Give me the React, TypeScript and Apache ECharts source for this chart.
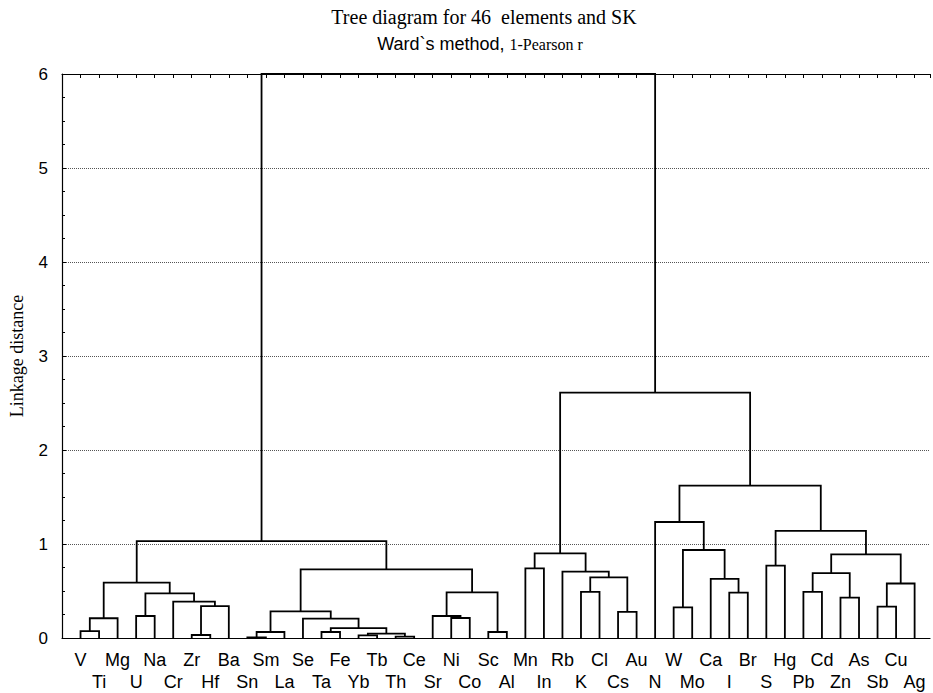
import React, { useEffect, useRef } from "react";
import * as echarts from "echarts";

// Leaf order along the x axis (positions 1..46)
const leaves = [
  "V", "Ti", "Mg", "U", "Na", "Cr", "Zr", "Hf", "Ba", "Sn", "Sm", "La",
  "Se", "Ta", "Fe", "Yb", "Tb", "Th", "Ce", "Sr", "Ni", "Co", "Sc", "Al",
  "Mn", "In", "Rb", "K", "Cl", "Cs", "Au", "N", "W", "Mo", "Ca", "I",
  "Br", "S", "Hg", "Pb", "Cd", "Zn", "As", "Sb", "Cu", "Ag",
];

// Merges: "#k" refers to the cluster formed by merge k
const mergeLeft = [
  "V", "#0", "U", "Zr", "#3", "Cr", "#2", "#1", "Sn", "#8", "Ta", "Yb",
  "Th", "#11", "#10", "Se", "#9", "Ni", "Sr", "Sc", "#18", "#16", "#7",
  "Mn", "K", "Cs", "#24", "Rb", "#23", "W", "I", "Ca", "#29", "N", "S",
  "Pb", "Zn", "#35", "Sb", "#38", "#37", "#34", "#33", "#28", "#22",
];
const mergeRight = [
  "Ti", "Mg", "Na", "Hf", "Ba", "#4", "#5", "#6", "Sm", "La", "Fe", "Tb",
  "Ce", "#12", "#13", "#14", "#15", "Co", "#17", "Al", "#19", "#20", "#21",
  "In", "Cl", "Au", "#25", "#26", "#27", "Mo", "Br", "#30", "#31", "#32", "Hg",
  "Cd", "As", "#36", "Cu", "Ag", "#39", "#40", "#41", "#42", "#43",
];
const mergeHeight = [
  0.074, 0.21, 0.234, 0.032, 0.34, 0.386, 0.475, 0.59, 0.006, 0.064, 0.064, 0.028,
  0.014, 0.046, 0.106, 0.206, 0.284, 0.213, 0.234, 0.064, 0.486, 0.73, 1.03,
  0.741, 0.49, 0.277, 0.645, 0.706, 0.9, 0.326, 0.482, 0.628, 0.936, 1.234, 0.77,
  0.49, 0.43, 0.69, 0.333, 0.58, 0.89, 1.14, 1.62, 2.61, 6.0,
];

const yMin = 0;
const yMax = 6;
const xMax = 46.83;

function buildSegments() {
  const nodeX: number[] = [];
  const nodeH: number[] = [];
  const ref = (r: string) => {
    if (r.startsWith("#")) {
      const k = parseInt(r.slice(1), 10);
      return { x: nodeX[k], h: nodeH[k] };
    }
    return { x: leaves.indexOf(r) + 1, h: 0 };
  };
  const data: number[][] = [];
  for (let k = 0; k < mergeHeight.length; k++) {
    const l = ref(mergeLeft[k]);
    const r = ref(mergeRight[k]);
    const h = mergeHeight[k];
    nodeX[k] = (l.x + r.x) / 2;
    nodeH[k] = h;
    data.push([l.x, r.x, l.h, r.h, h]);
  }
  return data;
}

export default function App() {
  const ref = useRef<HTMLDivElement>(null);
  useEffect(() => {
    if (!ref.current) return;
    const chart = echarts.init(ref.current, undefined, { renderer: "svg" });
    const segs = buildSegments();
    const sans = '"Liberation Sans", Arial, sans-serif';
    const serif = '"Liberation Serif", "Times New Roman", serif';
    chart.setOption({
      animation: false,
      backgroundColor: "#fff",
      grid: { left: 62, right: 0, top: 74, bottom: 55, containLabel: false },
      xAxis: [
        {
          type: "value",
          min: 0,
          max: xMax,
          interval: 1,
          position: "bottom",
          axisLine: { show: true, lineStyle: { color: "#000", width: 1.2 } },
          axisTick: { show: false },
          splitLine: { show: false },
          axisLabel: {
            show: true,
            interval: 0,
            margin: 11,
            color: "#000",
            fontFamily: sans,
            fontSize: 18,
            lineHeight: 22,
            verticalAlign: "top",
            showMinLabel: true,
            showMaxLabel: true,
            formatter: (v: number) => {
              const i = Math.round(v);
              if (Math.abs(v - i) > 0.01 || i < 1 || i > leaves.length) return "";
              const name = leaves[i - 1];
              return i % 2 === 1 ? name : "\n" + name;
            },
          },
        },
        {
          type: "value",
          min: 0,
          max: xMax,
          interval: 1,
          position: "top",
          axisLine: { show: true, lineStyle: { color: "#000", width: 1.2 } },
          axisTick: { show: true, inside: true, length: 4, lineStyle: { color: "#000" } },
          axisLabel: { show: false },
          splitLine: { show: false },
        },
      ],
      yAxis: {
        type: "value",
        min: yMin,
        max: yMax,
        interval: 1,
        axisLine: { show: true, lineStyle: { color: "#000", width: 1.2 } },
        axisTick: { show: true, inside: true, length: 4, lineStyle: { color: "#000" } },
        minorTick: { show: true, splitNumber: 4, length: 3, lineStyle: { color: "#000" } },
        splitLine: { show: true, lineStyle: { color: "#555", width: 1, type: "dotted" } },
        axisLabel: { color: "#000", fontFamily: sans, fontSize: 17, margin: 14 },
      },
      series: [
        {
          type: "custom",
          xAxisIndex: 0,
          yAxisIndex: 0,
          clip: false,
          encode: { x: [0, 1], y: [2, 3, 4] },
          data: segs,
          renderItem: (_params: any, api: any) => {
            const p1 = api.coord([api.value(0), api.value(2)]);
            const p2 = api.coord([api.value(0), api.value(4)]);
            const p3 = api.coord([api.value(1), api.value(4)]);
            const p4 = api.coord([api.value(1), api.value(3)]);
            return {
              type: "polyline",
              shape: { points: [p1, p2, p3, p4] },
              style: { stroke: "#000", lineWidth: 1.8, fill: null },
            };
          },
        },
      ],
      graphic: [
        {
          type: "text",
          x: 484,
          y: 17,
          style: {
            text: "Tree diagram for 46  elements and SK",
            font: `20px ${serif}`,
            fill: "#000",
            textAlign: "center",
            textVerticalAlign: "middle",
          },
        },
        {
          type: "text",
          x: 480,
          y: 44,
          style: {
            text: "{a|Ward`s method, }{b|1-Pearson r}",
            rich: {
              a: { fontFamily: sans, fontSize: 18, fill: "#000" },
              b: { fontFamily: serif, fontSize: 16, fill: "#000" },
            },
            textAlign: "center",
            textVerticalAlign: "middle",
          },
        },
        {
          type: "text",
          x: 17,
          y: 356,
          rotation: Math.PI / 2,
          style: {
            text: "Linkage distance",
            font: `18px ${serif}`,
            fill: "#000",
            textAlign: "center",
            textVerticalAlign: "middle",
          },
        },
      ],
    });
    return () => chart.dispose();
  }, []);
  return (
    <div
      ref={ref}
      style={{ position: "fixed", left: 0, top: 0, width: 933, height: 693, background: "#fff" }}
    />
  );
}
